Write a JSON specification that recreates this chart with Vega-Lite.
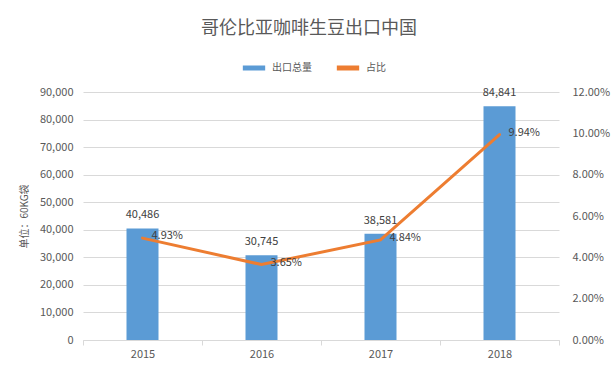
{
  "$schema": "https://vega.github.io/schema/vega-lite/v6.json",
  "autosize": "none",
  "width": 476,
  "height": 248,
  "padding": {"left": 83, "top": 92, "right": 57, "bottom": 29},
  "background": "white",
  "title": {
    "text": "哥伦比亚咖啡生豆出口中国",
    "fontSize": 18,
    "fontWeight": "normal",
    "color": "#595959",
    "font": "Noto Sans CJK SC",
    "anchor": "middle",
    "dx": -12,
    "offset": 16
  },
  "data": {
    "values": [
      {"year": "2015", "total": 40486, "share": 0.0493},
      {"year": "2016", "total": 30745, "share": 0.0365},
      {"year": "2017", "total": 38581, "share": 0.0484},
      {"year": "2018", "total": 84841, "share": 0.0994}
    ]
  },
  "encoding": {
    "x": {
      "field": "year",
      "type": "ordinal",
      "scale": {"paddingInner": 0, "paddingOuter": 0},
      "axis": {
        "title": null,
        "labelAngle": 0,
        "domainColor": "#d9d9d9",
        "tickColor": "#d9d9d9",
        "tickBand": "extent",
        "tickSize": 5,
        "labelPadding": 3,
        "labelFontSize": 11,
        "labelColor": "#595959",
        "labelFont": "Noto Sans CJK SC"
      }
    }
  },
  "layer": [
    {
      "encoding": {
        "y": {
          "field": "total",
          "type": "quantitative",
          "scale": {"domain": [0, 90000]},
          "axis": {
            "title": "单位：60KG袋",
            "titleFontSize": 10,
            "titleFontWeight": "normal",
            "titleColor": "#595959",
            "titleFont": "Noto Sans CJK SC",
            "titlePadding": 10,
            "values": [0, 10000, 20000, 30000, 40000, 50000, 60000, 70000, 80000, 90000],
            "format": ",.0f",
            "grid": true,
            "gridColor": "#d9d9d9",
            "domain": false,
            "ticks": false,
            "labelPadding": 10,
            "labelFontSize": 11,
            "labelColor": "#595959",
            "labelFont": "Noto Sans CJK SC"
          }
        }
      },
      "layer": [
        {
          "mark": {"type": "bar", "size": 32, "color": "#5b9bd5"},
          "encoding": {
            "color": {
              "datum": "出口总量",
              "type": "nominal",
              "scale": {"domain": ["出口总量", "占比"], "range": ["#5b9bd5", "#ed7d31"]},
              "legend": {
                "title": null,
                "orient": "none",
                "direction": "horizontal",
                "legendX": 157,
                "legendY": -38,
                "symbolType": "stroke",
                "symbolStrokeWidth": 5,
                "symbolSize": 500,
                "labelFontSize": 10,
                "labelColor": "#595959",
                "labelFont": "Noto Sans CJK SC",
                "columnPadding": 14
              }
            }
          }
        },
        {
          "mark": {"type": "text", "baseline": "bottom", "dy": -8, "fontSize": 11, "color": "#404040", "font": "Noto Sans CJK SC"},
          "encoding": {
            "text": {"field": "total", "type": "quantitative", "format": ","}
          }
        }
      ]
    },
    {
      "encoding": {
        "y": {
          "field": "share",
          "type": "quantitative",
          "scale": {"domain": [0, 0.12]},
          "axis": {
            "orient": "right",
            "title": null,
            "values": [0, 0.02, 0.04, 0.06, 0.08, 0.1, 0.12],
            "format": ".2%",
            "grid": false,
            "domain": false,
            "ticks": false,
            "labelPadding": 13,
            "labelFontSize": 11,
            "labelColor": "#595959",
            "labelFont": "Noto Sans CJK SC"
          }
        }
      },
      "layer": [
        {
          "mark": {"type": "line", "strokeWidth": 3, "strokeCap": "round", "color": "#ed7d31"},
          "encoding": {
            "color": {"datum": "占比", "type": "nominal"}
          }
        },
        {
          "mark": {"type": "text", "align": "left", "baseline": "middle", "dx": 9, "dy": -2, "fontSize": 11, "color": "#404040", "font": "Noto Sans CJK SC"},
          "encoding": {
            "text": {"field": "share", "type": "quantitative", "format": ".2%"}
          }
        }
      ]
    }
  ],
  "resolve": {"scale": {"y": "independent"}},
  "config": {"view": {"stroke": null}}
}
